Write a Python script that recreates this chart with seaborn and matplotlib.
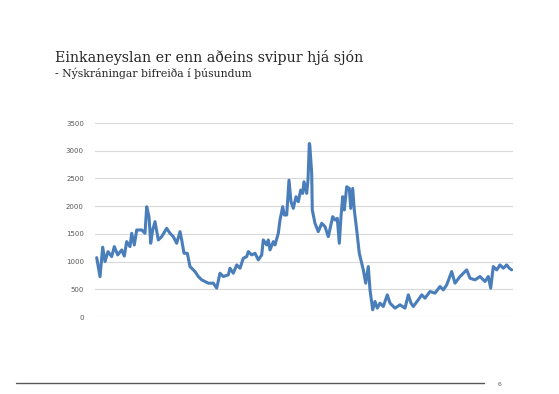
import pandas as pd
import matplotlib.pyplot as plt
import seaborn as sns

# Gögn lesin af myndinni (tímabil, nýskráningar)
titill = "Einkaneyslan er enn aðeins svipur hjá sjón"
undirtitill = "- Nýskráningar bifreiða í þúsundum"
y_ticks = [0, 500, 1000, 1500, 2000, 2500, 3000, 3500]

timabil = [
    0.7, 4, 6.7, 9, 12, 15.7, 18.3, 21.7, 25.7, 28.3, 30.7, 34, 35.7, 38.3,
    40.7, 45.7, 49, 50.7, 53, 54.7, 56.7, 59, 62.3, 65.7, 70.7, 74, 77.3,
    80.7, 84, 85.7, 88, 91.3, 94, 99, 102.3, 105.7, 109, 112.3, 117.3,
    120.7, 124, 127.3, 132.3, 134, 137.3, 140.7, 144, 147.3, 150.7, 152.3,
    155.7, 159, 162.3, 165.7, 167.3, 170.7, 172.3, 174, 177.3, 179, 182.3,
    184, 186.7, 188.3, 190.7, 193, 195, 197.3, 200, 202.3, 204.7, 206.7,
    208, 210.7, 212, 213.3, 213.8, 215.7, 216.3, 219, 222.3, 225.7, 229,
    232.3, 236.7, 239, 241.3, 243.3, 245, 246.7, 248.3, 250.7, 253.3,
    254.7, 256.7, 258.3, 260.7, 263.3, 267.3, 269.7, 272.3, 274, 276.7,
    279, 281.3, 284, 287.3, 291.3, 294, 299, 304, 309, 312.3, 315, 317.3,
    322.3, 325.7, 329, 334, 339, 344, 347.3, 350.7, 355.7, 359, 364, 370.7,
    374, 379, 384, 389, 392.3, 394.7, 397.3, 400.7, 404, 407.3, 410.7,
    413.3, 415.7,
]
skraningar = [
    1070, 727, 1260, 1000, 1180, 1090, 1270, 1120, 1210, 1100, 1360, 1270,
    1510, 1300, 1570, 1570, 1510, 1990, 1810, 1330, 1570, 1720, 1390, 1450,
    1600, 1510, 1450, 1330, 1540, 1390, 1150, 1150, 910, 820, 730, 670, 640,
    610, 610, 520, 790, 730, 760, 880, 790, 940, 880, 1060, 1090, 1180,
    1120, 1150, 1030, 1120, 1390, 1300, 1390, 1210, 1360, 1300, 1510, 1750,
    1990, 1840, 1840, 2470, 2080, 1960, 2170, 2080, 2290, 2230, 2440, 2230,
    2470, 3130, 3100, 2590, 1930, 1690, 1540, 1690, 1630, 1450, 1810, 1750,
    1780, 1330, 1810, 2170, 1930, 2350, 2320, 1960, 2320, 1930, 1570, 1150,
    850, 610, 910, 490, 130, 280, 160, 250, 190, 400, 250, 160, 220, 160,
    400, 250, 190, 310, 400, 340, 460, 430, 550, 490, 580, 820, 610, 730,
    850, 700, 670, 730, 640, 730, 520, 910, 850, 940, 880, 940, 880, 850,
]

df = pd.DataFrame({"timabil": timabil, "skraningar": skraningar})

sns.set_theme(style="white")
plt.rcParams['font.family'] = ['DejaVu Sans']

fig = plt.figure(figsize=(5.59, 3.94), dpi=100)
ax = fig.add_axes([95 / 559, 1 - 317 / 394, 418 / 559, 194 / 394])

sns.lineplot(data=df, x="timabil", y="skraningar", ax=ax, color="#4a7ebb",
             linewidth=2.2, estimator=None, sort=False)

ax.set_ylim(0, 3500)
ax.set_xlim(-1, 417)
ax.set_yticks(y_ticks)
ax.set_yticklabels([str(t) for t in y_ticks], fontsize=5, color="#595959")
ax.set_xticks([])
ax.set_xlabel("")
ax.set_ylabel("")
ax.yaxis.grid(True, color="#d9d9d9", linewidth=0.8)
ax.set_axisbelow(True)
ax.tick_params(axis="y", length=0, pad=8)
for s in ax.spines.values():
    s.set_visible(False)

fig.text(55 / 559, 1 - 62 / 394, titill, fontsize=10.3, family="DejaVu Serif",
         color="#262626", va="baseline")
fig.text(55 / 559, 1 - 77 / 394, undirtitill, fontsize=7.8,
         family="DejaVu Serif", color="#262626", va="baseline")

# lína neðst og blaðsíðunúmer
fig.add_artist(plt.Line2D([16 / 559, 484 / 559], [1 - 383 / 394, 1 - 383 / 394],
                          color="#595959", linewidth=1.0))
fig.text(498 / 559, 1 - 386 / 394, "6", fontsize=4.5, color="#595959",
         va="baseline")

plt.savefig("out.png", dpi=100)
